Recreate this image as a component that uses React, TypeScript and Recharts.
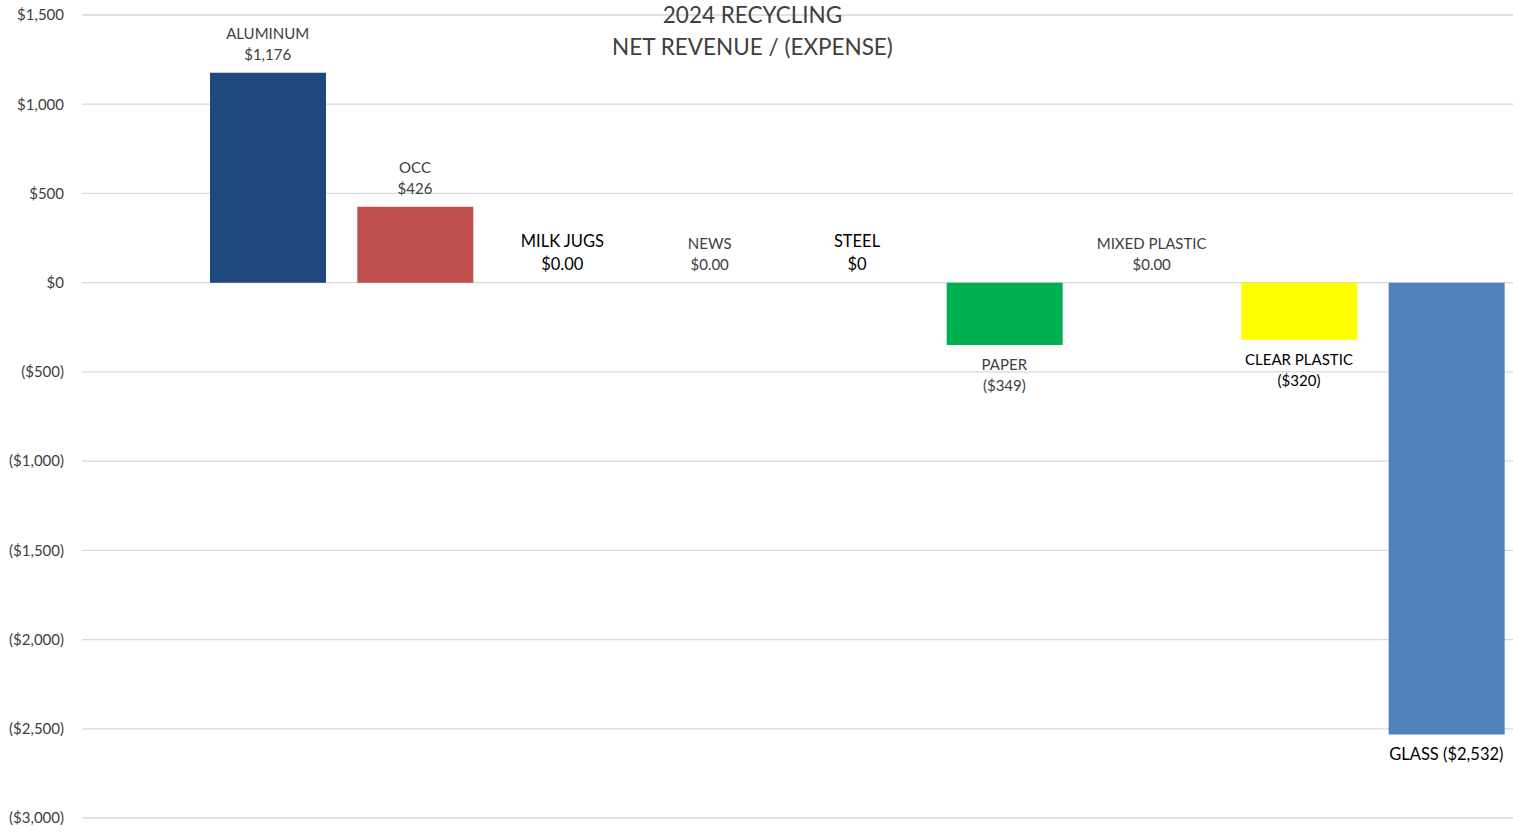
import React from 'react';
import { ComposedChart, Bar, Line, XAxis, YAxis, CartesianGrid, Cell, LabelList } from 'recharts';

const categories = ['ALUMINUM', 'OCC', 'MILK JUGS', 'NEWS', 'STEEL', 'PAPER', 'MIXED PLASTIC', 'CLEAR PLASTIC', 'GLASS'];
const values = [1176, 426, 0, 0, 0, -349, 0, -320, -2532];
const valueLabels = ['$1,176', '$426', '$0.00', '$0.00', '$0', '($349)', '$0.00', '($320)', '($2,532)'];
const yTicks = [1500, 1000, 500, 0, -500, -1000, -1500, -2000, -2500, -3000];
const colors = ['#1F497D', '#C0504D', '#4F81BD', '#4F81BD', '#4F81BD', '#00B050', '#4F81BD', '#FFFF00', '#4F81BD'];

const labelStyle: Record<string, { size: number; color: string; single?: boolean }> = {
  'MILK JUGS': { size: 16.5, color: '#000000' },
  'STEEL': { size: 16.5, color: '#000000' },
  'CLEAR PLASTIC': { size: 15, color: '#000000' },
  'GLASS': { size: 16.5, color: '#000000', single: true },
};

const data = categories.map((c, i) => ({ name: c, value: values[i], label: valueLabels[i] }));

const FONT = 'Lato, "Open Sans", sans-serif';

const fmt = (v: number) => {
  const s = '$' + Math.abs(v).toLocaleString('en-US');
  return v < 0 ? '(' + s + ')' : s;
};

const PointLabel = (props: any) => {
  const { x, y, value } = props;
  const d = data.find((e) => e.name === value);
  if (!d) return null;
  const st = labelStyle[d.name] || { size: 15, color: '#404040' };
  const lh = st.size >= 16.5 ? 23 : 21;
  const common = { textAnchor: 'middle' as const, dominantBaseline: 'central' as const, fill: st.color, fontSize: st.size, fontFamily: FONT };
  if (st.single) {
    return <text x={x} y={y + 20} {...common}>{d.name + ' ' + d.label}</text>;
  }
  if (d.value < 0) {
    return (
      <g>
        <text x={x} y={y + 19} {...common}>{d.name}</text>
        <text x={x} y={y + 19 + lh} {...common}>{d.label}</text>
      </g>
    );
  }
  return (
    <g>
      <text x={x} y={y - 19 - lh} {...common}>{d.name}</text>
      <text x={x} y={y - 19} {...common}>{d.label}</text>
    </g>
  );
};

export default function App() {
  return (
    <div style={{ position: 'absolute', left: 0, top: 0, width: 1513, height: 833, overflow: 'hidden', background: '#fff' }}>
      <ComposedChart width={1520} height={833} data={data} margin={{ top: 15, right: 0, bottom: 15, left: 0 }}>
        <CartesianGrid horizontal vertical={false} stroke="#D9D9D9" strokeWidth={1.3} />
        <XAxis dataKey="name" hide padding={{ left: 112, right: 0 }} />
        <YAxis
          domain={[-3000, 1500]}
          ticks={yTicks}
          interval={0}
          width={82}
          axisLine={false}
          tickLine={false}
          tickSize={0}
          tickMargin={18}
          tickFormatter={fmt}
          tick={{ fill: '#404040', fontSize: 15, fontFamily: FONT }}
        />
        <Bar dataKey="value" barSize={116} isAnimationActive={false}>
          {data.map((d, i) => (
            <Cell key={d.name} fill={colors[i]} />
          ))}
        </Bar>
        <Line dataKey="value" stroke="none" dot={false} activeDot={false} isAnimationActive={false} legendType="none">
          <LabelList dataKey="name" content={PointLabel} />
        </Line>
      </ComposedChart>
      <div style={{ position: 'absolute', left: 0, width: 1505, top: 0, textAlign: 'center', fontFamily: FONT, fontSize: 22.5, color: '#404040', lineHeight: '32px', pointerEvents: 'none' }}>
        <div style={{ marginTop: -1 }}>2024 RECYCLING</div>
        <div>NET REVENUE / (EXPENSE)</div>
      </div>
    </div>
  );
}
